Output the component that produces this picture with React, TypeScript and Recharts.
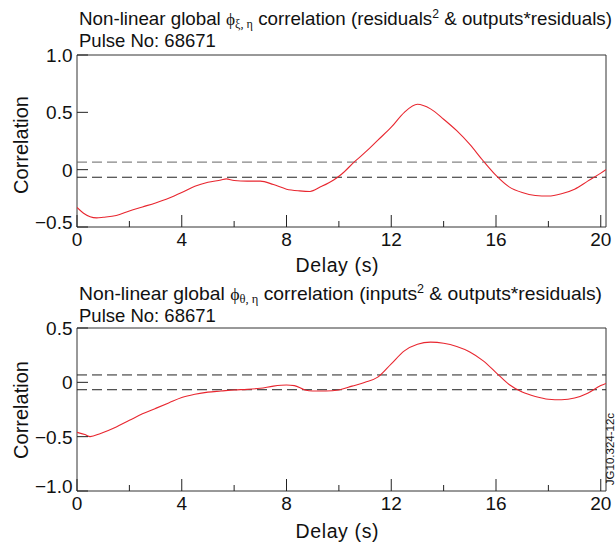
import { LineChart, Line, XAxis, YAxis, ReferenceLine, ReferenceArea } from "recharts";

const FONT = "'Liberation Sans', Arial, Helvetica, sans-serif";
const SERIF = "'Liberation Serif', 'DejaVu Serif', serif";
const INK = "#222";
const RED = "#e8262f";

// delay axis
const delayTicks = [0, 2, 4, 6, 8, 10, 12, 14, 16, 18, 20];
const delayMajor = [0, 4, 8, 12, 16, 20];
const delayMax = 20.2;

// residuals^2 vs outputs*residuals
const topDelay = [
  0, 0.25, 0.5, 0.75, 1.0, 1.5, 2.0, 2.5, 3.0, 3.5, 4.0, 4.5, 5.0, 5.5, 5.7, 6.0,
  6.5, 7.0, 7.5, 8.0, 8.5, 8.9, 9.3, 9.8, 10.1, 10.6, 11.0, 11.5, 12.0, 12.5, 13.0,
  13.5, 14.0, 14.5, 15.0, 15.5, 16.0, 16.5, 17.0, 17.5, 18.0, 18.5, 19.0, 19.5, 20.0, 20.2,
];
const topCorr = [
  -0.33, -0.38, -0.41, -0.42, -0.415, -0.4, -0.36, -0.325, -0.29, -0.25, -0.2, -0.145,
  -0.11, -0.09, -0.08, -0.095, -0.1, -0.1, -0.13, -0.17, -0.185, -0.19, -0.15, -0.09,
  -0.04, 0.07, 0.15, 0.26, 0.37, 0.5, 0.57, 0.53, 0.44, 0.34, 0.22, 0.08, -0.05, -0.15,
  -0.2, -0.225, -0.23, -0.21, -0.17, -0.1, -0.03, 0.0,
];
const topYTicks = [-0.5, 0, 0.5, 1.0];
const topConf = 0.066;

// inputs^2 vs outputs*residuals
const bottomDelay = [
  0, 0.3, 0.5, 0.9, 1.5, 2.0, 2.5, 3.0, 3.5, 4.0, 4.5, 5.0, 5.5, 6.0, 6.5, 7.0, 7.5,
  8.0, 8.3, 8.7, 9.0, 9.5, 10.0, 10.5, 11.0, 11.5, 12.0, 12.5, 13.0, 13.5, 14.0, 14.5,
  15.0, 15.5, 16.0, 16.5, 17.0, 17.5, 18.0, 18.5, 19.0, 19.5, 20.0, 20.2,
];
const bottomCorr = [
  -0.46, -0.48, -0.5, -0.47, -0.41, -0.35, -0.29, -0.24, -0.19, -0.14, -0.11, -0.09,
  -0.08, -0.07, -0.065, -0.055, -0.035, -0.025, -0.03, -0.07, -0.08, -0.08, -0.07,
  -0.035, 0.0, 0.05, 0.17, 0.29, 0.35, 0.37, 0.36, 0.33, 0.28, 0.2, 0.09, -0.02, -0.09,
  -0.13, -0.155, -0.16, -0.145, -0.1, -0.03, -0.01,
];
const bottomYTicks = [-1.0, -0.5, 0, 0.5];
const bottomConf = 0.068;

const fmtY = (v: number) => (v === 0 ? "0" : v.toFixed(1).replace("-", "\u2212"));

function XTick({ x, y, payload }: any) {
  const major = delayMajor.includes(payload.value);
  return (
    <g>
      <line x1={x} x2={x} y1={y} y2={y - (major ? 12 : 6)} stroke={INK} strokeWidth={1} />
      {major && (
        <text x={x} y={y + 18.5} textAnchor="middle" fontFamily={FONT} fontSize={19} fill="#111">
          {payload.value}
        </text>
      )}
    </g>
  );
}

// the lowest label sits a little higher so it clears the delay labels
const makeYTick = (yMin: number) =>
  function YTick({ x, y, payload }: any) {
    const dy = payload.value === yMin ? 2 : 7;
    return (
      <g>
        <line x1={x} x2={x + 11} y1={y} y2={y} stroke={INK} strokeWidth={1} />
        <text x={x - 4.5} y={y + dy} textAnchor="end" fontFamily={FONT} fontSize={19} fill="#111">
          {fmtY(payload.value)}
        </text>
      </g>
    );
  };

function Panel({ delay, corr, yTicks, conf, confUpperColor, height, top, axisHeight }: any) {
  const data = delay.map((d: number, i: number) => ({ d, v: corr[i] }));
  const yMin = yTicks[0];
  const yMax = yTicks[yTicks.length - 1];
  const YTick = makeYTick(yMin);
  return (
    <LineChart width={616} height={height} data={data} margin={{ top, right: 10, left: 0, bottom: 0 }}>
      <XAxis
        dataKey="d"
        type="number"
        domain={[0, delayMax]}
        ticks={delayTicks}
        allowDataOverflow
        tickSize={0}
        tickMargin={0}
        tickLine={false}
        axisLine={false}
        tick={<XTick />}
        height={axisHeight}
      />
      <YAxis
        type="number"
        domain={[yMin, yMax]}
        ticks={yTicks}
        allowDataOverflow
        tickSize={0}
        tickMargin={0}
        tickLine={false}
        axisLine={false}
        tick={<YTick />}
        width={77}
      />
      <ReferenceArea x1={0} x2={delayMax} y1={yMin} y2={yMax} fill="none" stroke="#333" strokeWidth={1} />
      <ReferenceLine y={conf} stroke={confUpperColor} strokeDasharray="10 5" />
      <ReferenceLine y={-conf} stroke={INK} strokeDasharray="10 5" />
      <Line
        dataKey="v"
        type="monotone"
        stroke={RED}
        strokeWidth={1.1}
        dot={false}
        isAnimationActive={false}
      />
    </LineChart>
  );
}

export default function App() {
  const txt = { fontFamily: FONT, fill: "#111" };
  return (
    <div style={{ position: "absolute", left: 0, top: 0, width: 616, height: 549, background: "#fff", overflow: "hidden" }}>
      <div style={{ position: "absolute", left: 0, top: 0 }}>
        <Panel
          delay={topDelay}
          corr={topCorr}
          yTicks={topYTicks}
          conf={topConf}
          confUpperColor="#666"
          height={270}
          top={55}
          axisHeight={43}
        />
      </div>
      <div style={{ position: "absolute", left: 0, top: 270 }}>
        <Panel
          delay={bottomDelay}
          corr={bottomCorr}
          yTicks={bottomYTicks}
          conf={bottomConf}
          confUpperColor={INK}
          height={279}
          top={58}
          axisHeight={58}
        />
      </div>
      <svg width={616} height={549} style={{ position: "absolute", left: 0, top: 0, pointerEvents: "none" }}>
        <text x={79} y={25} fontSize={18.5} textLength={533} lengthAdjust="spacingAndGlyphs" {...txt}>
          Non-linear global <tspan fontFamily={SERIF} fontSize={17}>{"\u03d5"}</tspan>
          <tspan fontFamily={SERIF} fontSize={12} dy={3}>{"\u03be, \u03b7"}</tspan>
          <tspan dy={-3}> correlation (residuals</tspan>
          <tspan fontSize={12} dy={-7}>2</tspan>
          <tspan dy={7}> &amp; outputs*residuals)</tspan>
        </text>
        <text x={79} y={47} fontSize={18.5} {...txt}>Pulse No: 68671</text>
        <text x={79} y={300} fontSize={18.5} textLength={523} lengthAdjust="spacingAndGlyphs" {...txt}>
          Non-linear global <tspan fontFamily={SERIF} fontSize={17}>{"\u03d5"}</tspan>
          <tspan fontFamily={SERIF} fontSize={12} dy={3}>{"\u03b8, \u03b7"}</tspan>
          <tspan dy={-3}> correlation (inputs</tspan>
          <tspan fontSize={12} dy={-7}>2</tspan>
          <tspan dy={7}> &amp; outputs*residuals)</tspan>
        </text>
        <text x={79} y={322} fontSize={18.5} {...txt}>Pulse No: 68671</text>

        <text x={28} y={145} fontSize={20} textAnchor="middle" transform="rotate(-90 28 145)" {...txt}>Correlation</text>
        <text x={28} y={410} fontSize={20} textAnchor="middle" transform="rotate(-90 28 410)" {...txt}>Correlation</text>
        <text x={337} y={271.5} fontSize={19.5} textAnchor="middle" textLength={83} {...txt}>Delay (s)</text>
        <text x={337} y={537.5} fontSize={19.5} textAnchor="middle" textLength={83} {...txt}>Delay (s)</text>

        <text x={614} y={449} fontSize={11.5} textAnchor="middle" transform="rotate(-90 614 449)" {...txt}>JG10.324-12c</text>
      </svg>
    </div>
  );
}
